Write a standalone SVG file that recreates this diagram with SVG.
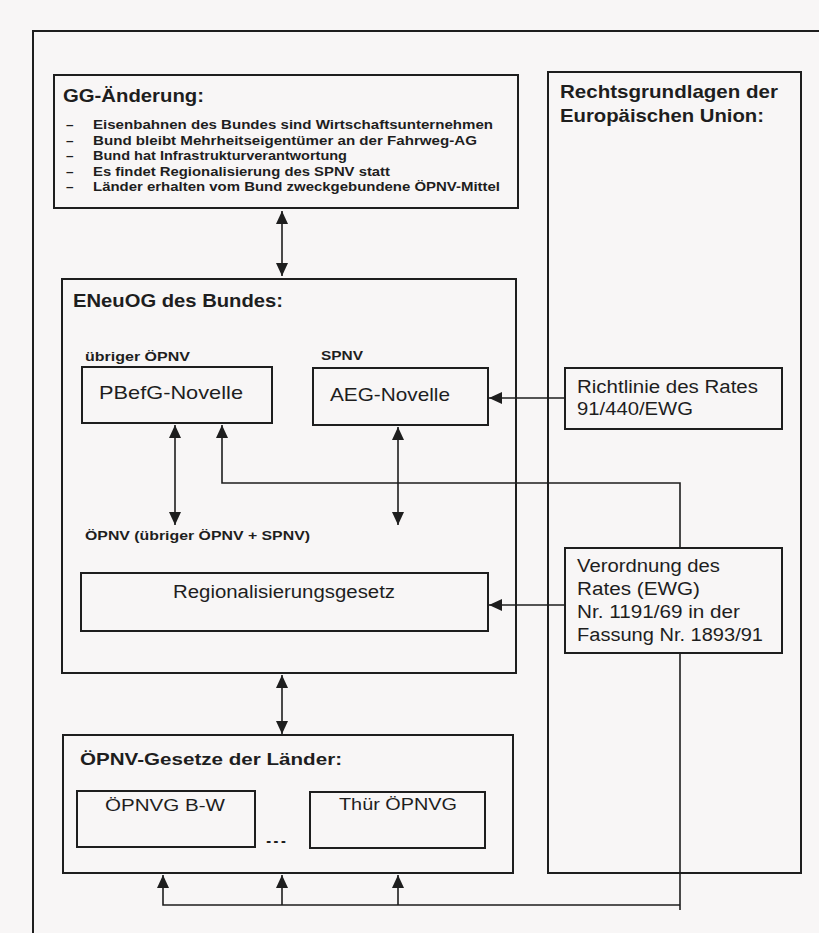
<svg xmlns="http://www.w3.org/2000/svg" width="819" height="933" viewBox="0 0 819 933">
<defs>
<style>
.box{fill:none;stroke:#1e1e1e;stroke-width:2}
.con{fill:none;stroke:#1e1e1e;stroke-width:1.6}
.arr{marker-end:url(#ah)}
.dbl{marker-start:url(#ah);marker-end:url(#ah)}
text{font-family:"Liberation Sans",Arial,sans-serif;fill:#1e1e1e}
.t{font-weight:bold;font-size:18.5px}
.b{font-weight:bold;font-size:13.5px}
.s{font-weight:bold;font-size:13px}
.l{font-size:19px}
.m{font-size:18px}
.n{font-size:17px}
</style>
<marker id="ah" markerUnits="userSpaceOnUse" markerWidth="13" markerHeight="12" refX="13" refY="6" orient="auto-start-reverse"><path d="M0,0 L13,6 L0,12 z" fill="#1e1e1e"/></marker>
</defs>
<rect width="819" height="933" fill="#f8f6f6"/>
<g id="frame"><path class="box" d="M33,933 V31 H819"/></g>

<g id="gg">
<rect class="box" x="54" y="75" width="464" height="133"/>
<text class="t" x="63" y="102" textLength="141" lengthAdjust="spacingAndGlyphs">GG-Änderung:</text>
<text class="b" x="66" y="129">–</text><text class="b" x="93" y="129" textLength="400" lengthAdjust="spacingAndGlyphs">Eisenbahnen des Bundes sind Wirtschaftsunternehmen</text>
<text class="b" x="66" y="144.5">–</text><text class="b" x="93" y="144.5" textLength="384" lengthAdjust="spacingAndGlyphs">Bund bleibt Mehrheitseigentümer an der Fahrweg-AG</text>
<text class="b" x="66" y="160">–</text><text class="b" x="93" y="160" textLength="254" lengthAdjust="spacingAndGlyphs">Bund hat Infrastrukturverantwortung</text>
<text class="b" x="66" y="175.5">–</text><text class="b" x="93" y="175.5" textLength="297" lengthAdjust="spacingAndGlyphs">Es findet Regionalisierung des SPNV statt</text>
<text class="b" x="66" y="191">–</text><text class="b" x="93" y="191" textLength="407" lengthAdjust="spacingAndGlyphs">Länder erhalten vom Bund zweckgebundene ÖPNV-Mittel</text>
</g>

<g id="eu">
<rect class="box" x="548" y="72" width="253" height="801"/>
<text class="t" x="560" y="98" textLength="218" lengthAdjust="spacingAndGlyphs">Rechtsgrundlagen der</text>
<text class="t" x="560" y="122" textLength="204" lengthAdjust="spacingAndGlyphs">Europäischen Union:</text>
</g>

<g id="eneuog">
<rect class="box" x="62" y="279" width="454" height="394"/>
<text class="t" x="73" y="307" textLength="210" lengthAdjust="spacingAndGlyphs">ENeuOG des Bundes:</text>
<text class="s" x="85" y="361" textLength="105" lengthAdjust="spacingAndGlyphs">übriger ÖPNV</text>
<text class="s" x="321" y="360" textLength="42" lengthAdjust="spacingAndGlyphs">SPNV</text>
<text class="s" x="85" y="540" textLength="225" lengthAdjust="spacingAndGlyphs">ÖPNV (übriger ÖPNV + SPNV)</text>
</g>

<g id="pbefg">
<rect class="box" x="82" y="367" width="190" height="56"/>
<text class="l" x="99" y="399" textLength="144" lengthAdjust="spacingAndGlyphs">PBefG-Novelle</text>
</g>

<g id="aeg">
<rect class="box" x="313" y="368" width="175" height="57"/>
<text class="l" x="330" y="401" textLength="120" lengthAdjust="spacingAndGlyphs">AEG-Novelle</text>
</g>

<g id="regg">
<rect class="box" x="81" y="573" width="407" height="58"/>
<text class="m" x="173" y="598" textLength="222" lengthAdjust="spacingAndGlyphs">Regionalisierungsgesetz</text>
</g>

<g id="richtlinie">
<rect class="box" x="565" y="368" width="217" height="61"/>
<text class="m" x="577" y="393" textLength="181" lengthAdjust="spacingAndGlyphs">Richtlinie des Rates</text>
<text class="m" x="577" y="415" textLength="116" lengthAdjust="spacingAndGlyphs">91/440/EWG</text>
</g>

<g id="verordnung">
<rect class="box" x="565" y="548" width="217" height="105"/>
<text class="m" x="577" y="572" textLength="143" lengthAdjust="spacingAndGlyphs">Verordnung des</text>
<text class="m" x="577" y="595" textLength="123" lengthAdjust="spacingAndGlyphs">Rates (EWG)</text>
<text class="m" x="577" y="618" textLength="163" lengthAdjust="spacingAndGlyphs">Nr. 1191/69 in der</text>
<text class="m" x="577" y="641" textLength="186" lengthAdjust="spacingAndGlyphs">Fassung Nr. 1893/91</text>
</g>

<g id="laender">
<rect class="box" x="63" y="735" width="450" height="138"/>
<text class="t" x="80" y="765" textLength="262" lengthAdjust="spacingAndGlyphs" style="font-size:17px">ÖPNV-Gesetze der Länder:</text>
<text class="b" x="265" y="843" textLength="22" lengthAdjust="spacingAndGlyphs">...</text>
</g>

<g id="oepnvg-bw">
<rect class="box" x="77" y="791" width="178" height="56"/>
<text class="n" x="105" y="811" textLength="120" lengthAdjust="spacingAndGlyphs">ÖPNVG B-W</text>
</g>

<g id="thuer">
<rect class="box" x="310" y="792" width="175" height="56"/>
<text class="n" x="339" y="810" textLength="118" lengthAdjust="spacingAndGlyphs">Thür ÖPNVG</text>
</g>

<g id="connectors">
<line class="con dbl" x1="282" y1="211" x2="282" y2="276"/>
<line class="con dbl" x1="175" y1="425" x2="175" y2="525"/>
<line class="con dbl" x1="398" y1="427" x2="398" y2="525"/>
<path class="con arr" d="M680,548 V483 H222 V425"/>
<path class="con arr" d="M565,398 H489"/>
<path class="con arr" d="M565,605 H489"/>
<line class="con dbl" x1="282" y1="675" x2="282" y2="734"/>
<path class="con" d="M680,653 V910"/>
<path class="con arr" d="M680,905 H163 V875"/>
<path class="con arr" d="M282,905 V875"/>
<path class="con arr" d="M398,905 V875"/>
</g>
</svg>
